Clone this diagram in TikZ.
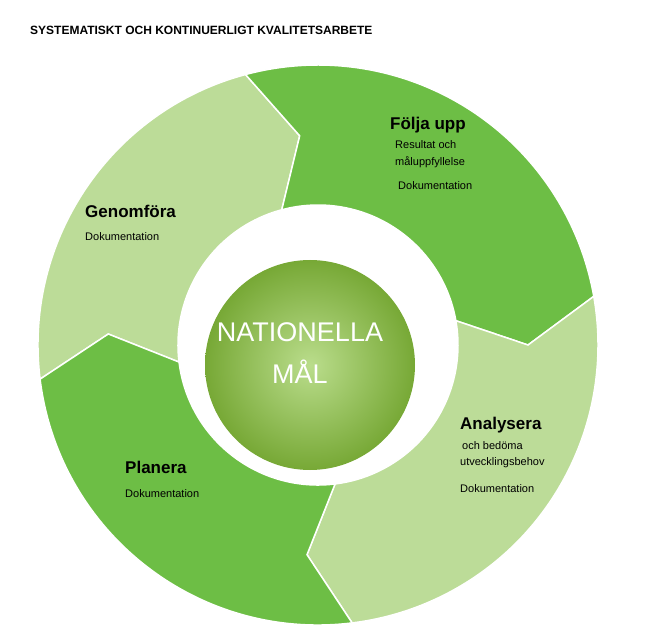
\documentclass[tikz,border=0pt]{standalone}
\usepackage{fontspec}
\setmainfont{Liberation Sans}
\begin{document}
\begin{tikzpicture}[x=1pt,y=1pt,
  lbl/.style={anchor=west,inner sep=0pt,font=\fontsize{11}{13}\selectfont},
  hd/.style={anchor=west,inner sep=0pt,font=\fontsize{17}{19}\selectfont\bfseries}]
\definecolor{dk}{HTML}{6DBE45}
\definecolor{lt}{HTML}{BCDC98}
\definecolor{ce}{HTML}{8CC63F}
\useasboundingbox (0,0) rectangle (667,633);
\newcommand\seg[3]{%
 \filldraw[fill=#3,draw=white,line width=1.5pt,shift={(318,288)}]
 (#1:280pt) arc[start angle=#1,end angle=#2,radius=280pt] -- (#2-10:210pt) -- (#2:140pt)
 arc[start angle=#2,end angle=#1,radius=140pt] -- (#1-10:210pt) -- cycle;}
\seg{187}{105}{lt}
\seg{105}{10}{dk}
\seg{10}{-83}{lt}
\seg{-83}{-173}{dk}
\shade[inner color=ce!60!white,outer color=ce!85!black] (310,268) circle (105);
\node (c) at (310,268) [circle,minimum size=210pt] {};
\node (m1) at (300,301) {\fontsize{27}{29}\selectfont\color{white}NATIONELLA};
\node (m2) at (300,261) {\fontsize{27}{29}\selectfont\color{white}MÅL};
\node (t) [anchor=west,inner sep=0pt,font=\fontsize{12}{14}\selectfont\bfseries] at (30,603) {SYSTEMATISKT OCH KONTINUERLIGT KVALITETSARBETE};
\node[hd] (f) at (390,508) {Följa upp};
\node[lbl] (f1) at (395,488) {Resultat och};
\node[lbl] (f2) at (395,471) {måluppfyllelse};
\node[lbl] (f3) at (398,447) {Dokumentation};
\node[hd] (g) at (85,422) {Genomföra};
\node[lbl] (g1) at (85,396) {Dokumentation};
\node[hd] (p) at (125,166) {Planera};
\node[lbl] (p1) at (125,139) {Dokumentation};
\node[hd] (a) at (460,208) {Analysera};
\node[lbl] (a1) at (462,187) {och bedöma};
\node[lbl] (a2) at (460,170) {utvecklingsbehov};
\node[lbl] (a3) at (460,144) {Dokumentation};
\end{tikzpicture}
\end{document}
